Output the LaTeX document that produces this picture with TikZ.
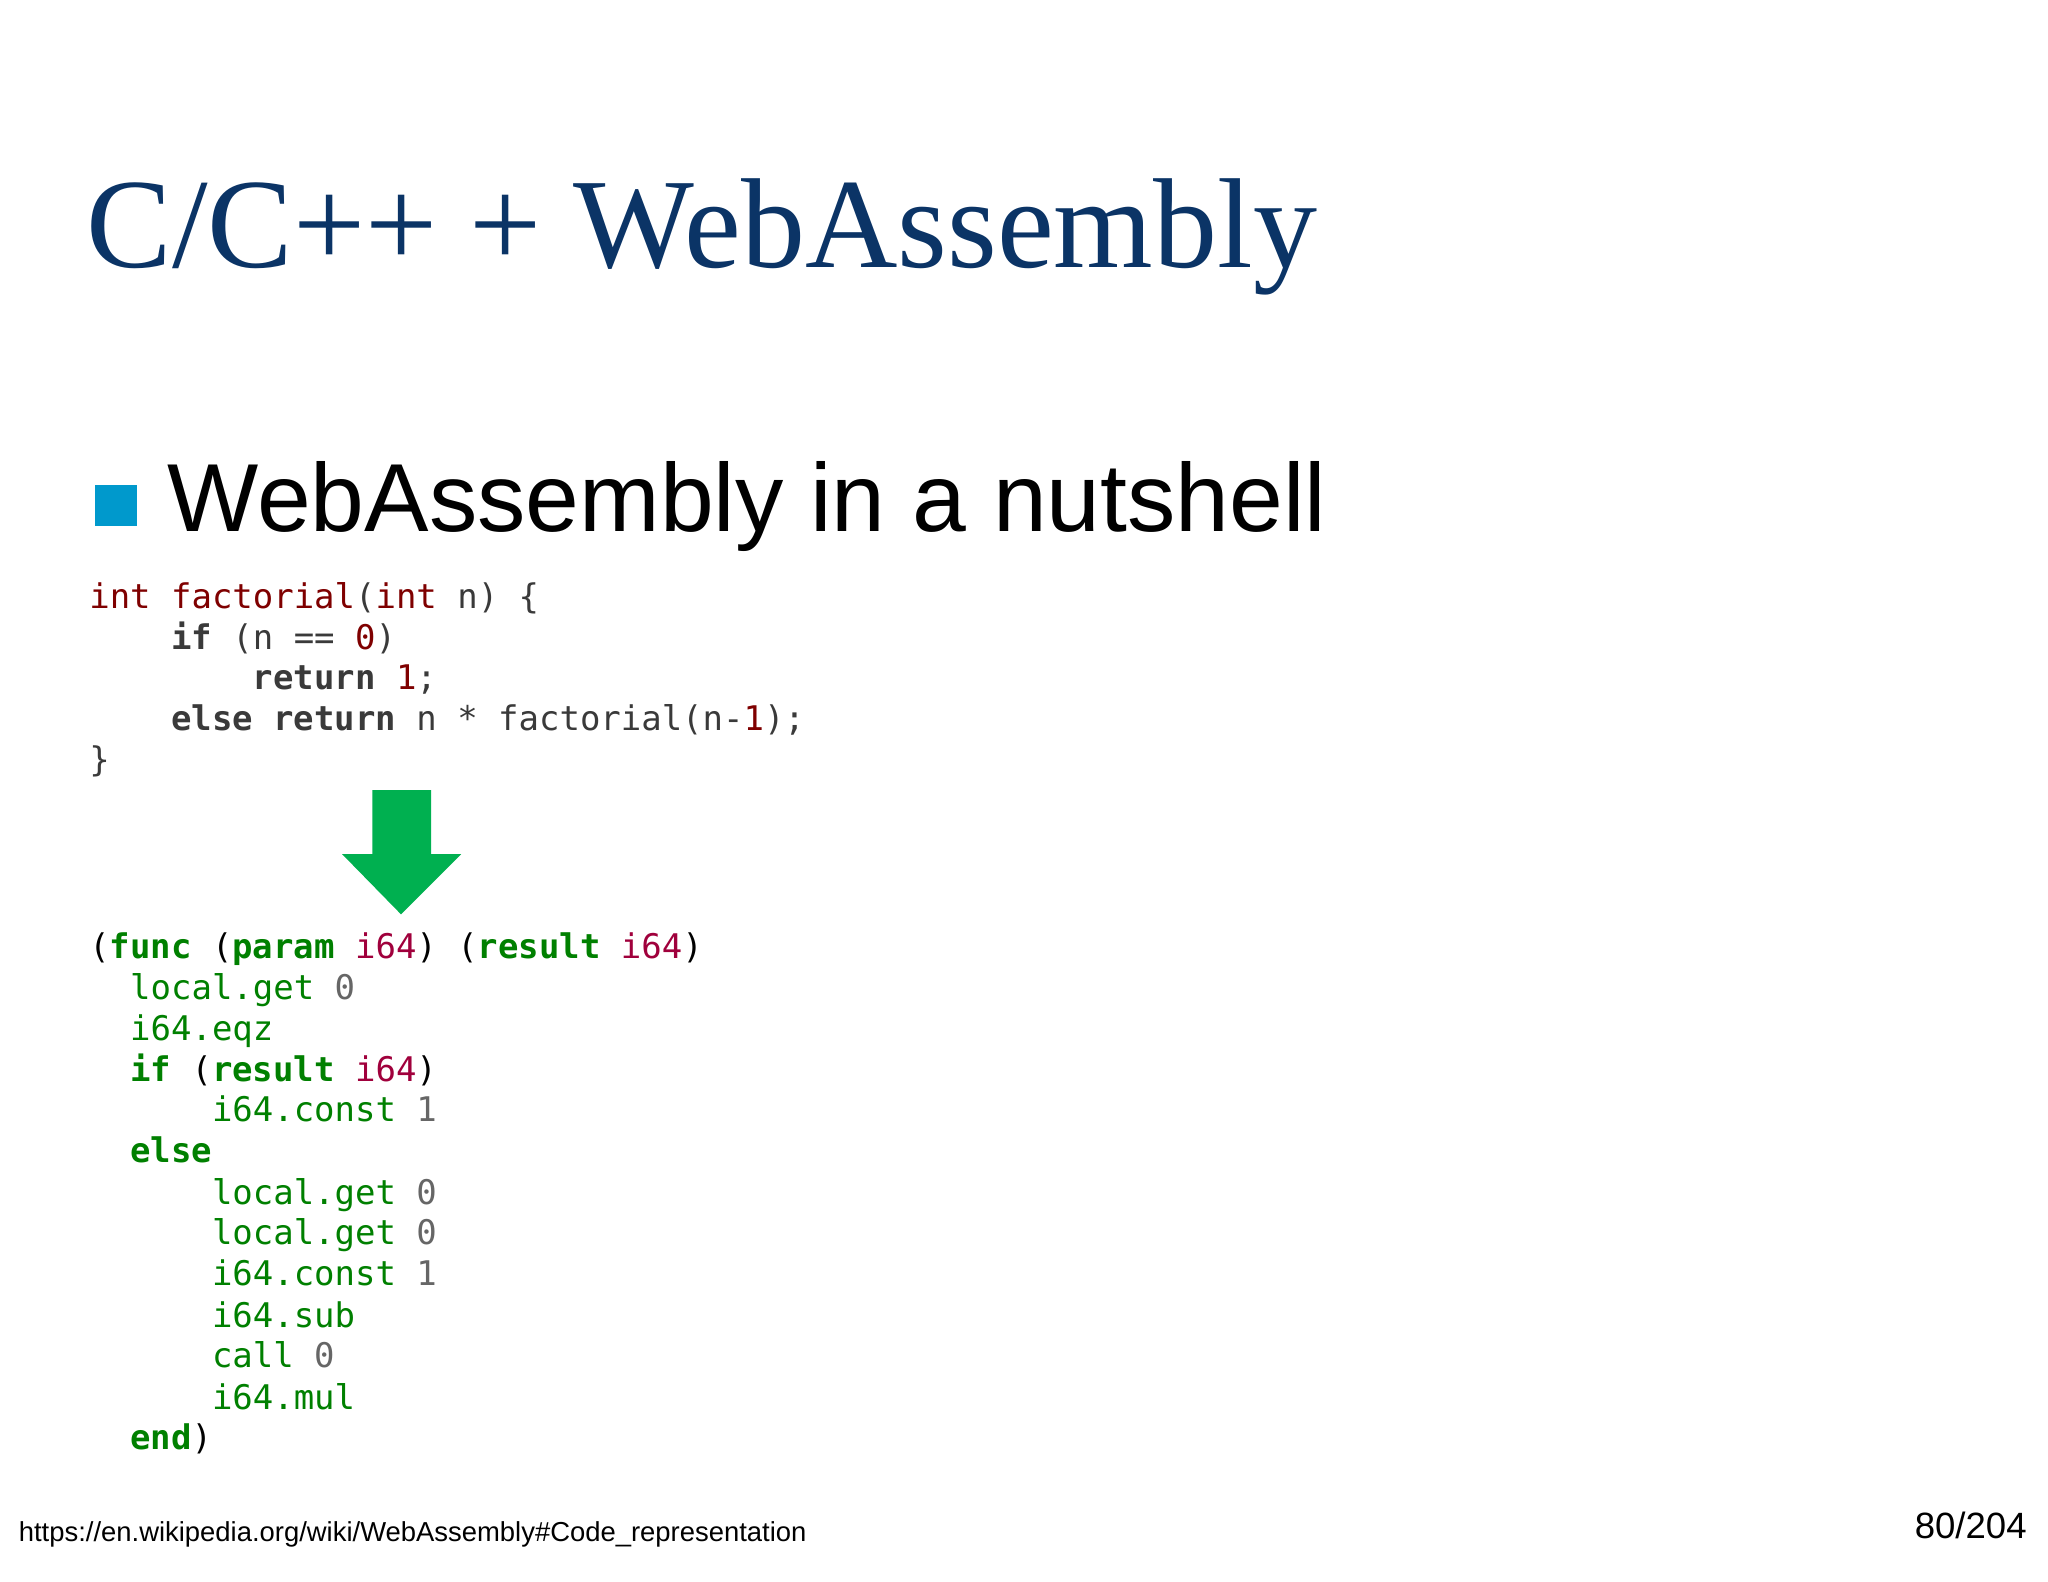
\documentclass[tikz,border=0pt]{standalone}
\usepackage{fontspec}
\setmainfont{Liberation Sans}
\newfontfamily\titlefont{Liberation Serif}
\setmonofont{DejaVu Sans Mono}
\definecolor{titleblue}{HTML}{0B3466}
\definecolor{bulletblue}{HTML}{0099CC}
\definecolor{ckw}{HTML}{7F0000}
\definecolor{ctxt}{HTML}{3A3A3A}
\definecolor{wgreen}{HTML}{008000}
\definecolor{wred}{HTML}{A0003C}
\definecolor{wgrey}{HTML}{666666}
\definecolor{arrowgreen}{HTML}{00B050}
\newcommand{\K}[1]{\textcolor{ckw}{#1}}
\newcommand{\B}[1]{\textbf{#1}}
\newcommand{\G}[1]{\textcolor{wgreen}{#1}}
\newcommand{\GB}[1]{\textcolor{wgreen}{\textbf{#1}}}
\newcommand{\R}[1]{\textcolor{wred}{#1}}
\newcommand{\N}[1]{\textcolor{wgrey}{#1}}
\begin{document}
\begin{tikzpicture}[x=0.5pt,y=-0.5pt,
  code/.style={anchor=base west,inner sep=0pt,font=\ttfamily\fontsize{13pt}{15pt}\selectfont},
  ccode/.style={code,text=ctxt}]
\useasboundingbox[fill=white] (0,0) rectangle (1568,1211);
\node[anchor=base west,inner sep=0pt,text=titleblue,font=\titlefont\fontsize{49pt}{55pt}\selectfont] (title) at (66,205) {C/C++ + WebAssembly};
\fill[bulletblue] (73,371) rectangle (105,403);
\node (bullet) at (89,387) {};
\node[anchor=base west,inner sep=0pt,font=\fontsize{37pt}{42pt}\selectfont] (head) at (128,407) {WebAssembly in a nutshell};
% C code
\node[ccode] (c1) at (68,466) {\K{int} \K{factorial}(\K{int} n) \{};
\node[ccode] (c2) at (68,497) {\phantom{xxxx}\B{if} (n == \K{0})};
\node[ccode] (c3) at (68,528) {\phantom{xxxxxxxx}\B{return} \K{1};};
\node[ccode] (c4) at (68,559) {\phantom{xxxx}\B{else} \B{return} n * factorial(n-\K{1});};
\node[ccode] (c5) at (68,591) {\}};
% arrow
\fill[arrowgreen] (285,605) -- (330,605) -- (330,654) -- (353,654) -- (307,700) -- (262,654) -- (285,654) -- cycle;
\coordinate (arr) at (307,650);
% wasm
\node[code] (w1) at (68,734) {(\GB{func} (\GB{param} \R{i64}) (\GB{result} \R{i64})};
\node[code] (w2) at (68,765) {\phantom{xx}\G{local.get} \N{0}};
\node[code] (w3) at (68,797) {\phantom{xx}\G{i64.eqz}};
\node[code] (w4) at (68,828) {\phantom{xx}\GB{if} (\GB{result} \R{i64})};
\node[code] (w5) at (68,859) {\phantom{xxxxxx}\G{i64.const} \N{1}};
\node[code] (w6) at (68,890) {\phantom{xx}\GB{else}};
\node[code] (w7) at (68,922) {\phantom{xxxxxx}\G{local.get} \N{0}};
\node[code] (w8) at (68,953) {\phantom{xxxxxx}\G{local.get} \N{0}};
\node[code] (w9) at (68,984) {\phantom{xxxxxx}\G{i64.const} \N{1}};
\node[code] (w10) at (68,1016) {\phantom{xxxxxx}\G{i64.sub}};
\node[code] (w11) at (68,1047) {\phantom{xxxxxx}\G{call} \N{0}};
\node[code] (w12) at (68,1079) {\phantom{xxxxxx}\G{i64.mul}};
\node[code] (w13) at (68,1110) {\phantom{xx}\GB{end})};
% footer
\node[anchor=base west,inner sep=0pt,font=\fontsize{10.5pt}{12pt}\selectfont] (url) at (14,1180) {https://en.wikipedia.org/wiki/WebAssembly\#Code\_representation};
\node[anchor=base east,inner sep=0pt,font=\fontsize{14pt}{16pt}\selectfont] (page) at (1552,1178) {80/204};
\end{tikzpicture}
\end{document}
